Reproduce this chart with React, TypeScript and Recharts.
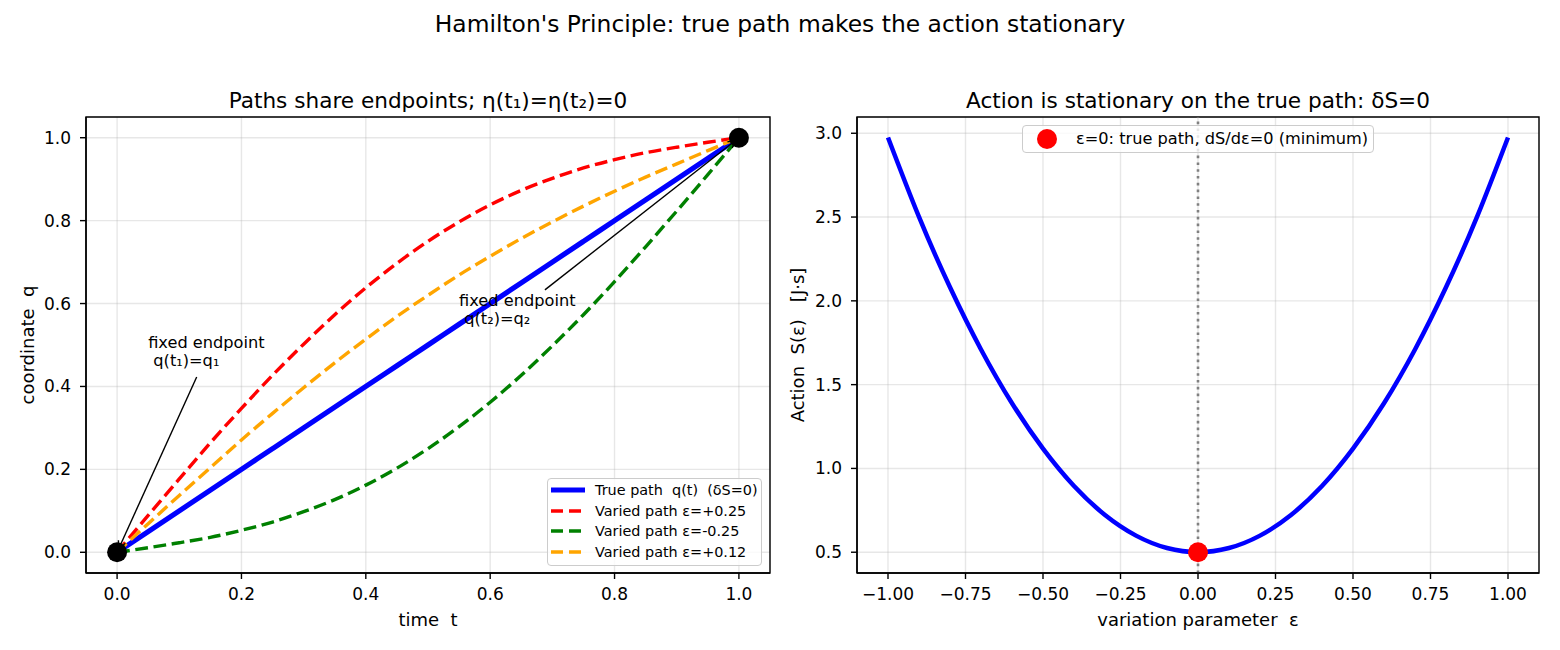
import React from 'react';
import {
  ComposedChart,
  Line,
  XAxis,
  YAxis,
  CartesianGrid,
  ReferenceLine,
  ReferenceDot,
  ReferenceArea,
} from 'recharts';

const FONT = '"DejaVu Sans", "Liberation Sans", sans-serif';

// ---------- Left panel data: paths q(t) ----------
const TIME = [0, 0.05, 0.1, 0.15, 0.2, 0.25, 0.3, 0.35, 0.4, 0.45, 0.5, 0.55, 0.6, 0.65, 0.7, 0.75, 0.8, 0.85, 0.9, 0.95, 1];
const TRUE_PATH = [0, 0.05, 0.1, 0.15, 0.2, 0.25, 0.3, 0.35, 0.4, 0.45, 0.5, 0.55, 0.6, 0.65, 0.7, 0.75, 0.8, 0.85, 0.9, 0.95, 1];
const PATH_PLUS_025 = [0, 0.089, 0.177, 0.264, 0.347, 0.427, 0.502, 0.573, 0.638, 0.697, 0.75, 0.797, 0.838, 0.873, 0.902, 0.927, 0.947, 0.964, 0.977, 0.989, 1];
const PATH_MINUS_025 = [0, 0.011, 0.023, 0.036, 0.053, 0.073, 0.098, 0.127, 0.162, 0.203, 0.25, 0.303, 0.362, 0.427, 0.498, 0.573, 0.653, 0.737, 0.823, 0.911, 1];
const PATH_PLUS_012 = [0, 0.069, 0.137, 0.204, 0.271, 0.335, 0.397, 0.457, 0.514, 0.569, 0.62, 0.669, 0.714, 0.757, 0.797, 0.835, 0.871, 0.905, 0.937, 0.969, 1];

const LEFT_X_TICKS = [0, 0.2, 0.4, 0.6, 0.8, 1.0];
const LEFT_Y_TICKS = [0, 0.2, 0.4, 0.6, 0.8, 1.0];
const ENDPOINT_T = [0, 1];
const ENDPOINT_Q = [0, 1];

// annotation texts (anchor in data coords) and arrows (start -> target)
const ANNOT_TEXT_T = [0.05, 0.55];
const ANNOT_TEXT_Q = [0.45, 0.55];
const ANNOT_LINES = [
  ['fixed endpoint', ' q(t\u2081)=q\u2081'],
  ['fixed endpoint', ' q(t\u2082)=q\u2082'],
];
const ARROW_START_T = [0.128, 0.688];
const ARROW_START_Q = [0.423, 0.633];
const ARROW_END_T = [0, 1];
const ARROW_END_Q = [0, 1];

const SERIES = [
  { key: 'truePath', name: 'True path  q(t)  (\u03b4S=0)', color: '#0000ff', width: 5.2, dash: undefined as string | undefined },
  { key: 'plus025', name: 'Varied path \u03b5=+0.25', color: '#ff0000', width: 3.4, dash: '12.8 5.6' },
  { key: 'minus025', name: 'Varied path \u03b5=-0.25', color: '#008000', width: 3.4, dash: '12.8 5.6' },
  { key: 'plus012', name: 'Varied path \u03b5=+0.12', color: '#ffa500', width: 3.4, dash: '12.8 5.6' },
];

const leftRows = TIME.map((t, i) => ({
  t,
  truePath: TRUE_PATH[i],
  plus025: PATH_PLUS_025[i],
  minus025: PATH_MINUS_025[i],
  plus012: PATH_PLUS_012[i],
}));

// ---------- Right panel data: action S(eps) ----------
const EPS = [-1, -0.9, -0.8, -0.7, -0.6, -0.5, -0.4, -0.3, -0.2, -0.1, 0, 0.1, 0.2, 0.3, 0.4, 0.5, 0.6, 0.7, 0.8, 0.9, 1];
const ACTION = [2.975, 2.501, 2.081, 1.71, 1.389, 1.118, 0.895, 0.722, 0.599, 0.525, 0.5, 0.525, 0.599, 0.722, 0.895, 1.118, 1.389, 1.71, 2.081, 2.501, 2.975];
const RIGHT_X_TICKS = [-1, -0.75, -0.5, -0.25, 0, 0.25, 0.5, 0.75, 1];
const RIGHT_Y_TICKS = [0.5, 1.0, 1.5, 2.0, 2.5, 3.0];
const MIN_EPS = 0;
const MIN_ACTION = 0.5;
const RIGHT_LEGEND_LABEL = '\u03b5=0: true path, dS/d\u03b5=0 (minimum)';

const rightRows = EPS.map((e, i) => ({ e, s: ACTION[i] }));

// ---------- helpers ----------
const tickStyle = { fill: '#000', fontSize: 17, fontFamily: FONT };
const axisLineStyle = { stroke: '#000', strokeWidth: 1.4 };

const arrowShape = (p: any) => {
  const { x1, y1, x2, y2 } = p;
  if ([x1, y1, x2, y2].some((v) => typeof v !== 'number' || isNaN(v))) return <g />;
  const dx = x2 - x1;
  const dy = y2 - y1;
  const L = Math.hypot(dx, dy) || 1;
  const ux = dx / L;
  const uy = dy / L;
  const tx = x2 - ux * 3.6;
  const ty = y2 - uy * 3.6;
  const hl = 8;
  const hw = 3.8;
  const bx = tx - ux * hl;
  const by = ty - uy * hl;
  const px = -uy;
  const py = ux;
  return (
    <g>
      <line x1={x1} y1={y1} x2={tx} y2={ty} stroke="#000" strokeWidth={1.4} />
      <polyline
        points={`${bx + px * hw},${by + py * hw} ${tx},${ty} ${bx - px * hw},${by - py * hw}`}
        fill="none"
        stroke="#000"
        strokeWidth={1.4}
      />
    </g>
  );
};

const makeLabel = (lines: string[]) => (p: any) => {
  const { cx, cy } = p;
  if (typeof cx !== 'number' || typeof cy !== 'number') return <g />;
  return (
    <text
      x={cx}
      y={cy}
      fontSize={16.2}
      fontFamily={FONT}
      fill="#000"
      xmlSpace="preserve"
      style={{ whiteSpace: 'pre' }}
    >
      <tspan x={cx} y={cy - 18}>{lines[0]}</tspan>
      <tspan x={cx} y={cy}>{lines[1]}</tspan>
    </text>
  );
};

const dotShape = (color: string, r: number) => (p: any) => {
  const { cx, cy } = p;
  if (typeof cx !== 'number' || typeof cy !== 'number') return <g />;
  return <circle cx={cx} cy={cy} r={r} fill={color} />;
};

const fmtMinus = (s: string) => s.replace('-', '\u2212');

export default function App() {
  return (
    <div style={{ position: 'absolute', left: 0, top: 0, width: 1560, height: 650, background: '#fff', fontFamily: FONT }}>
      {/* Left panel */}
      <div style={{ position: 'absolute', left: 0, top: 0 }}>
        <ComposedChart width={780} height={650} data={leftRows} margin={{ top: 117, right: 10, bottom: 27, left: 26 }}>
          <CartesianGrid stroke="#b0b0b0" strokeOpacity={0.3} strokeWidth={1.4} />
          <XAxis
            type="number"
            dataKey="t"
            domain={[-0.05, 1.05]}
            ticks={LEFT_X_TICKS}
            tickFormatter={(v: number) => fmtMinus(v.toFixed(1))}
            height={50}
            tickSize={6}
            tickMargin={9}
            tick={tickStyle}
            tickLine={axisLineStyle}
            axisLine={axisLineStyle}
            allowDataOverflow
          />
          <YAxis
            type="number"
            domain={[-0.05, 1.05]}
            ticks={LEFT_Y_TICKS}
            tickFormatter={(v: number) => fmtMinus(v.toFixed(1))}
            width={60}
            tickSize={6}
            tickMargin={9}
            tick={tickStyle}
            tickLine={axisLineStyle}
            axisLine={axisLineStyle}
            allowDataOverflow
          />
          <ReferenceArea x1={-0.05} x2={1.05} y1={-0.05} y2={1.05} fill="none" fillOpacity={0} stroke="#000" strokeWidth={1.4} ifOverflow="visible" />
          {SERIES.map((s) => (
            <Line
              key={s.key}
              dataKey={s.key}
              name={s.name}
              type="natural"
              stroke={s.color}
              strokeWidth={s.width}
              strokeDasharray={s.dash}
              dot={false}
              activeDot={false}
              isAnimationActive={false}
            />
          ))}
          {ARROW_START_T.map((t, i) => (
            <ReferenceLine
              key={'arrow' + i}
              segment={[
                { x: t, y: ARROW_START_Q[i] },
                { x: ARROW_END_T[i], y: ARROW_END_Q[i] },
              ]}
              shape={arrowShape}
              ifOverflow="visible"
            />
          ))}
          {ANNOT_TEXT_T.map((t, i) => (
            <ReferenceDot key={'txt' + i} x={t} y={ANNOT_TEXT_Q[i]} r={0} shape={makeLabel(ANNOT_LINES[i])} ifOverflow="visible" />
          ))}
          {ENDPOINT_T.map((t, i) => (
            <ReferenceDot key={'ep' + i} x={t} y={ENDPOINT_Q[i]} r={10} shape={dotShape('#000', 10)} ifOverflow="visible" />
          ))}
        </ComposedChart>
      </div>

      {/* Right panel */}
      <div style={{ position: 'absolute', left: 780, top: 0 }}>
        <ComposedChart width={780} height={650} data={rightRows} margin={{ top: 117, right: 21, bottom: 27, left: 17 }}>
          <CartesianGrid stroke="#b0b0b0" strokeOpacity={0.3} strokeWidth={1.4} />
          <XAxis
            type="number"
            dataKey="e"
            domain={[-1.1, 1.1]}
            ticks={RIGHT_X_TICKS}
            tickFormatter={(v: number) => fmtMinus(v.toFixed(2))}
            height={50}
            tickSize={6}
            tickMargin={9}
            tick={tickStyle}
            tickLine={axisLineStyle}
            axisLine={axisLineStyle}
            allowDataOverflow
          />
          <YAxis
            type="number"
            domain={[0.376, 3.097]}
            ticks={RIGHT_Y_TICKS}
            tickFormatter={(v: number) => v.toFixed(1)}
            width={60}
            tickSize={6}
            tickMargin={9}
            tick={tickStyle}
            tickLine={axisLineStyle}
            axisLine={axisLineStyle}
            allowDataOverflow
          />
          <ReferenceArea x1={-1.1} x2={1.1} y1={0.376} y2={3.097} fill="none" fillOpacity={0} stroke="#000" strokeWidth={1.4} ifOverflow="visible" />
          <ReferenceLine x={MIN_EPS} stroke="#808080" strokeWidth={2.6} strokeDasharray="2.6 4.2" />
          <Line
            dataKey="s"
            type="natural"
            stroke="#0000ff"
            strokeWidth={4.5}
            dot={false}
            activeDot={false}
            isAnimationActive={false}
          />
          <ReferenceDot x={MIN_EPS} y={MIN_ACTION} r={10} shape={dotShape('#ff0000', 10)} ifOverflow="visible" />
        </ComposedChart>
      </div>

      {/* Left legend */}
      <div
        style={{
          position: 'absolute',
          left: 547,
          top: 478,
          width: 215,
          height: 88,
          boxSizing: 'border-box',
          border: '1px solid #cccccc',
          borderRadius: 4,
          background: 'rgba(255,255,255,0.8)',
          paddingTop: 1,
        }}
      >
        {SERIES.map((s) => (
          <div key={s.key} style={{ display: 'flex', alignItems: 'center', height: 20.6 }}>
            <svg width={36} height={8} style={{ marginLeft: 2, marginRight: 9, flex: 'none' }}>
              <line x1={1} y1={4} x2={35} y2={4} stroke={s.color} strokeWidth={s.key === 'truePath' ? 5.2 : 3.4} strokeDasharray={s.dash ? '12 6' : undefined} />
            </svg>
            <span style={{ fontSize: 14.4, color: '#000', whiteSpace: 'pre', lineHeight: '16px' }}>{s.name}</span>
          </div>
        ))}
      </div>

      {/* Right legend */}
      <div
        style={{
          position: 'absolute',
          left: 1022,
          top: 125,
          width: 352,
          height: 28,
          boxSizing: 'border-box',
          border: '1px solid #cccccc',
          borderRadius: 4,
          background: 'rgba(255,255,255,0.8)',
          display: 'flex',
          alignItems: 'center',
        }}
      >
        <svg width={24} height={24} style={{ marginLeft: 12, marginRight: 17, flex: 'none' }}>
          <circle cx={12} cy={12} r={10} fill="#ff0000" />
        </svg>
        <span style={{ fontSize: 16.2, color: '#000', whiteSpace: 'pre', lineHeight: '18px' }}>{RIGHT_LEGEND_LABEL}</span>
      </div>

      {/* Titles and axis labels */}
      <svg width={1560} height={650} style={{ position: 'absolute', left: 0, top: 0, pointerEvents: 'none' }} fontFamily={FONT}>
        <text x={780} y={32} textAnchor="middle" fontSize={23.4} fill="#000">
          Hamilton's Principle: true path makes the action stationary
        </text>
        <text x={428} y={108} textAnchor="middle" fontSize={21.6} fill="#000">
          {'Paths share endpoints; \u03b7(t\u2081)=\u03b7(t\u2082)=0'}
        </text>
        <text x={1198} y={108} textAnchor="middle" fontSize={21.6} fill="#000">
          {'Action is stationary on the true path: \u03b4S=0'}
        </text>
        <text x={428} y={626} textAnchor="middle" fontSize={18} fill="#000" xmlSpace="preserve" style={{ whiteSpace: 'pre' }}>
          {'time  t'}
        </text>
        <text x={1198} y={626} textAnchor="middle" fontSize={18} fill="#000" xmlSpace="preserve" style={{ whiteSpace: 'pre' }}>
          {'variation parameter  \u03b5'}
        </text>
        <text x={34} y={345} transform="rotate(-90 34 345)" textAnchor="middle" fontSize={18} fill="#000" xmlSpace="preserve" style={{ whiteSpace: 'pre' }}>
          {'coordinate  q'}
        </text>
        <text x={804} y={345} transform="rotate(-90 804 345)" textAnchor="middle" fontSize={18} fill="#000" xmlSpace="preserve" style={{ whiteSpace: 'pre' }}>
          {'Action  S(\u03b5)   [J\u00b7s]'}
        </text>
      </svg>
    </div>
  );
}
